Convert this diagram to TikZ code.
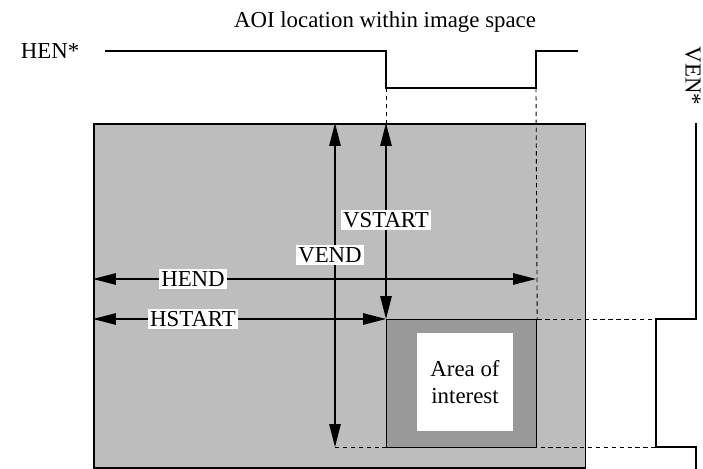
\documentclass[tikz,border=0pt]{standalone}
\usepackage{fontspec}
\setmainfont{Liberation Serif}
\usetikzlibrary{arrows.meta,positioning}

\begin{document}
\begin{tikzpicture}[
  x=0.02cm, y=-0.02cm,
  every node/.style={font=\fontsize{13}{15}\selectfont},
  imgbox/.style={rectangle, draw, line width=0.9pt, fill=gray!52, inner sep=0pt},
  aoibox/.style={rectangle, draw, line width=0.7pt, fill=gray!80, inner sep=0pt},
  tag/.style={fill=white, inner sep=1.5pt},
  dim/.style={{Triangle[length=13pt,width=6.5pt]}-{Triangle[length=13pt,width=6.5pt]}, line width=0.6pt},
  guide/.style={line width=0.5pt, dash pattern=on 2.5pt off 2pt},
  wave/.style={line width=0.6pt},
]
  \useasboundingbox (0,0) rectangle (703,469);

  % timing signals
  \node (title) at (385,22) {AOI location within image space};
  \node (hen) at (50,51) {HEN*};
  \node[rotate=-90] (ven) at (693,76) {VEN*};

  \coordinate (hen-start) at (105,51);
  \coordinate (hen-fall) at (386,51);
  \coordinate (hen-rise) at (536,51);
  \coordinate (hen-end) at (578,51);
  \coordinate (hen-low) at (386,88);
  \coordinate (ven-start) at (696,123);
  \coordinate (ven-low) at (656,319);
  \coordinate (ven-back) at (656,447);
  \coordinate (ven-end) at (696,469);

  \draw[wave] (hen-start) -- (hen-fall) -- (hen-low) -| (hen-rise) -- (hen-end);
  \draw[wave] (ven-start) |- (ven-low) -- (ven-back) -| (ven-end);

  % image space
  \node[imgbox, minimum width=9.84cm, minimum height=6.88cm, anchor=north west] (img) at (93,123) {};

  \coordinate (vend) at (335,447);
  \coordinate (hend) at (536,279);
  \draw[guide] (vend) -- (ven-back);

  % area of interest
  \node[aoibox, minimum width=3cm, minimum height=2.56cm, anchor=north west] (aoi) at (386,319) {};
  \node[fill=white, minimum width=1.94cm, minimum height=1.98cm, align=center] (roi) at (465,382) {Area of\\interest};

  \draw[guide] (hen-low) -- (aoi.north west |- img.north);
  \draw[guide] (hen-rise |- hen-low) -- (aoi.north east);
  \draw[guide] (aoi.north east) -- (ven-low);

  % dimensions
  \draw[dim] (vend |- img.north) -- (vend);
  \draw[dim] (aoi.north west |- img.north) -- (aoi.north west);
  \draw[dim] (img.west |- hend) -- (hend);
  \draw[dim] (img.west |- aoi.north west) -- (aoi.north west);

  \node[tag] (vstart-lbl) at (386,220) {VSTART};
  \node[tag] (vend-lbl) at (330,255) {VEND};
  \node[tag] (hend-lbl) at (193,279) {HEND};
  \node[tag] (hstart-lbl) at (193,319) {HSTART};
\end{tikzpicture}
\end{document}
